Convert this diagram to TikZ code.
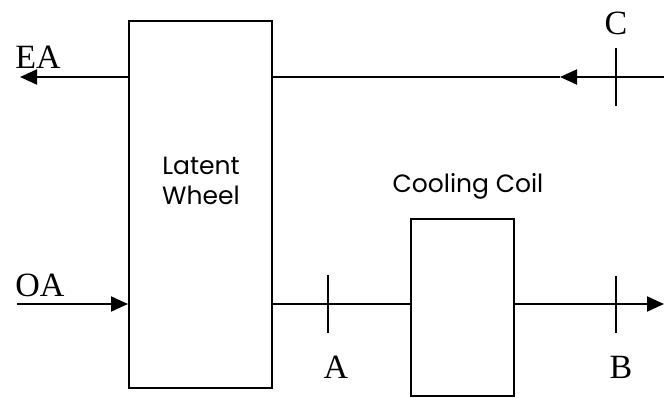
\documentclass[tikz,border=0pt]{standalone}
\usepackage{fontspec}
\setmainfont{Liberation Serif}
\newfontfamily\gothic{Poppins}
\usetikzlibrary{arrows.meta}

\begin{document}
\begin{tikzpicture}[x=1pt,y=-1pt,
  unit/.style={draw,line width=2pt,inner sep=0pt},
  lbl/.style={font=\fontsize{34}{34}\selectfont,inner sep=0pt},
  unittxt/.style={font=\gothic\fontsize{25}{30}\selectfont,align=center,inner sep=0pt},
  duct/.style={line width=2pt},
  flow/.style={duct,-{Triangle[length=17pt,width=15pt]}},
  tickline/.style={line width=2pt}]
  \useasboundingbox (0,0) rectangle (664,398);
  % boxes
  \node[unit,minimum width=143pt,minimum height=367pt] (wheel) at (200.5,204.5) {};
  \node[unit,minimum width=103pt,minimum height=177pt] (coil) at (462.5,307.5) {};
  \node[unittxt] (wheeltxt) at (201,181) {Latent\\Wheel};
  \node[unittxt] (coiltxt) at (468,186) {Cooling Coil};
  % end points
  \coordinate (ea) at (20,77);
  \coordinate (cin) at (664,77);
  \coordinate (carr) at (560,77);
  \coordinate (oa) at (17,304);
  \coordinate (bout) at (664,304);
  \coordinate (pa) at (328,304);
  \coordinate (pb) at (616,304);
  \coordinate (pc) at (616,77);
  % ducts
  \draw[flow] (wheel.west |- ea) -- (ea);
  \draw[flow] (cin) -- (carr);
  \draw[duct] (carr) -- (wheel.east |- cin);
  \draw[flow] (oa) -- (wheel.west |- oa);
  \draw[duct] (wheel.east |- oa) -- (coil.west |- oa);
  \draw[flow] (coil.east |- oa) -- (bout);
  % measuring points
  \draw[tickline] (pa) +(0,-29) -- +(0,29);
  \draw[tickline] (pb) +(0,-28) -- +(0,29);
  \draw[tickline] (pc) +(0,-29) -- +(0,29);
  % labels
  \node[lbl] (latxt) at (38,57) {EA};
  \node[lbl] (loa) at (40,285) {OA};
  \node[lbl] (la) at (336,367) {A};
  \node[lbl] (lb) at (621,367) {B};
  \node[lbl] (lc) at (616,23) {C};
\end{tikzpicture}
\end{document}
